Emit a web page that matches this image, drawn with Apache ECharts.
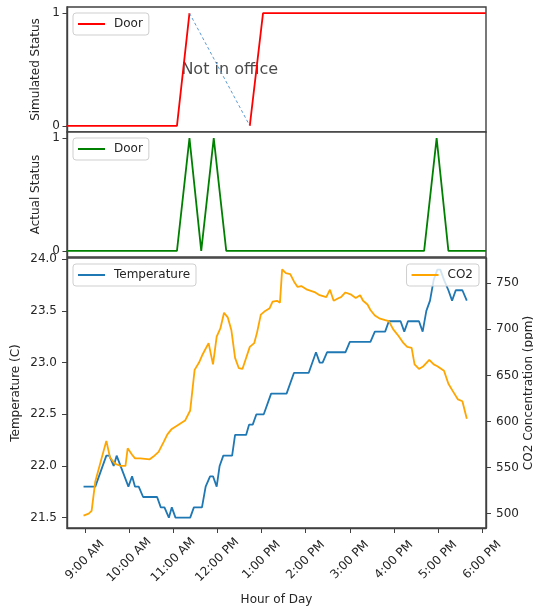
<!DOCTYPE html>
<html>
<head>
<meta charset="utf-8">
<script src="https://cdn.jsdelivr.net/npm/echarts@6/dist/echarts.min.js"></script>
<style>
  html, body { margin: 0; padding: 0; background: #fff; }
  #chart { width: 533px; height: 608px; }
</style>
</head>
<body>
<div id="chart"></div>
<script>
// Tick positions
const hourTicks = [9, 10, 11, 12, 13, 14, 15, 16, 17, 18];
const statusTicks = [0, 1];
const tempTicks = [21.5, 22.0, 22.5, 23.0, 23.5, 24.0];
const co2Ticks = [500, 550, 600, 650, 700, 750];

// Simulated door status (null = no reading while away)
const simDoorTimes = ["8:35", "11:05", "11:22", "12:00", "12:44", "13:02", "18:05"];
const simDoorValues = [0, 0, 1, null, 0, 1, 1];

// Dashed link across the time out of the office
const awayTimes = ["11:22", "12:44"];
const awayValues = [1, 0];

// Measured door status
const doorTimes = ["8:35", "11:05", "11:22", "11:38", "11:55", "12:12", "16:41", "16:58", "17:14", "18:05"];
const doorValues = [0, 0, 1, 0, 1, 0, 0, 1, 0, 0];

// Room temperature (C)
const tempTimes = ["8:58","9:14","9:29","9:33","9:39","9:43","9:59","10:04","10:08","10:13","10:19","10:38","10:43","10:48","10:54","10:58","11:03","11:23","11:28","11:39","11:44","11:50","11:54","11:59","12:03","12:08","12:20","12:24","12:39","12:43","12:48","12:53","13:03","13:13","13:34","13:44","14:04","14:14","14:19","14:23","14:29","14:54","15:00","15:28","15:34","15:48","15:53","16:09","16:14","16:19","16:34","16:39","16:44","16:49","16:54","16:59","17:03","17:08","17:14","17:19","17:24","17:33","17:39"];
const tempValues = [21.8,21.8,22.1,22.1,22.0,22.1,21.8,21.9,21.8,21.8,21.7,21.7,21.6,21.6,21.5,21.6,21.5,21.5,21.6,21.6,21.8,21.9,21.9,21.8,22.0,22.1,22.1,22.3,22.3,22.4,22.4,22.5,22.5,22.7,22.7,22.9,22.9,23.1,23.0,23.0,23.1,23.1,23.2,23.2,23.3,23.3,23.4,23.4,23.3,23.4,23.4,23.3,23.5,23.6,23.8,23.9,23.9,23.8,23.7,23.6,23.7,23.7,23.6];

// CO2 concentration (ppm)
const co2Times = ["8:58","9:05","9:09","9:14","9:29","9:34","9:41","9:48","9:55","9:58","10:04","10:08","10:15","10:28","10:33","10:40","10:47","10:52","10:58","11:06","11:16","11:23","11:29","11:35","11:40","11:48","11:54","11:59","12:04","12:09","12:14","12:19","12:24","12:29","12:34","12:39","12:44","12:50","12:54","12:59","13:05","13:11","13:15","13:21","13:25","13:28","13:33","13:39","13:44","13:49","13:54","14:02","14:13","14:19","14:28","14:33","14:38","14:45","14:48","14:54","15:01","15:08","15:14","15:18","15:24","15:28","15:34","15:40","15:48","15:53","15:59","16:06","16:13","16:18","16:24","16:28","16:34","16:40","16:48","16:54","16:59","17:08","17:14","17:20","17:27","17:33","17:39"];
const co2Values = [498,500,503,535,579,561,554,552,552,571,564,560,560,559,562,567,578,586,592,596,601,612,656,664,673,685,662,692,701,718,713,699,669,658,657,669,681,685,697,716,720,723,730,731,729,765,761,760,752,746,747,743,740,737,735,743,731,734,735,740,738,734,737,731,727,721,715,712,710,709,700,693,685,681,680,662,657,660,667,662,660,655,641,633,624,622,603];

// Text annotation on the simulated panel
const noteText = "Not in office";
const notePoint = ["11:11", 0.5];

const FONT = 'DejaVu Sans';
const TXT = '#262626';
const SPINE = '#404040';
const X_MIN = 8.592, X_MAX = 18.085;

function hm(s) { const p = s.split(':').map(Number); return p[0] + p[1] / 60; }
function pairs(ts, vs) { return ts.map((t, i) => [hm(t), vs[i] === null ? '-' : vs[i]]); }
function hourLabel(h) {
  const h12 = h % 12 === 0 ? 12 : h % 12;
  return h12 + ':00 ' + (h < 12 ? 'AM' : 'PM');
}

const gridBase = {
  left: 67, right: 47, show: true, borderColor: SPINE, borderWidth: 1.4,
  backgroundColor: '#fff', containLabel: false, outerBoundsMode: 'none'
};
const labelFont = { fontFamily: FONT, fontSize: 12, color: TXT };
const legendIcon = 'path://M0,0H27V2H0Z M31,0';

function topX(gridIndex) {
  return {
    type: 'value', gridIndex, min: X_MIN, max: X_MAX,
    axisLine: { show: false, onZero: false },
    axisTick: { show: false }, axisLabel: { show: false }, splitLine: { show: false }
  };
}
function statusY(gridIndex, name) {
  return {
    type: 'value', gridIndex, min: -0.055, max: 1.055,
    name, nameLocation: 'middle', nameGap: 25, nameTextStyle: labelFont, nameMoveOverlap: false,
    axisLine: { show: true, onZero: false, lineStyle: { color: SPINE, width: 1.4 } },
    axisTick: { show: true, length: 4.5, customValues: statusTicks, lineStyle: { color: SPINE } },
    axisLabel: Object.assign({ customValues: statusTicks, margin: 7 }, labelFont),
    splitLine: { show: false }
  };
}
function legend(left, right, top, name, color) {
  const l = {
    top, icon: legendIcon, itemWidth: 31, itemHeight: 2,
    padding: [5, 6, 5, 5], borderColor: '#cfcfcf', borderWidth: 1, borderRadius: 3,
    backgroundColor: 'rgba(255,255,255,0.8)',
    textStyle: labelFont, selectedMode: false,
    itemStyle: { borderWidth: 0 },
    data: [{ name, itemStyle: { color, borderWidth: 0 } }]
  };
  if (left !== null) l.left = left; else l.right = right;
  return l;
}

const option = {
  animation: false,
  textStyle: { fontFamily: FONT },
  grid: [
    Object.assign({ top: 7, height: 125 }, gridBase),
    Object.assign({ top: 132, height: 125 }, gridBase),
    Object.assign({ top: 258, height: 270 }, gridBase)
  ],
  legend: [
    legend(73, null, 13, 'Door', '#ff0000'),
    legend(73, null, 138, 'Door', '#008000'),
    legend(73, null, 264, 'Temperature', '#1f77b4'),
    legend(null, 54, 264, 'CO2', '#ffa500')
  ],
  xAxis: [
    topX(0),
    topX(1),
    {
      type: 'value', gridIndex: 2, min: X_MIN, max: X_MAX,
      name: 'Hour of Day', nameLocation: 'middle', nameGap: 66, nameTextStyle: labelFont,
      nameMoveOverlap: false,
      axisLine: { show: true, onZero: false, lineStyle: { color: SPINE, width: 1.4 } },
      axisTick: { show: true, length: 5, customValues: hourTicks, lineStyle: { color: SPINE } },
      axisLabel: Object.assign({
        customValues: hourTicks, rotate: 45, align: 'center', verticalAlign: 'middle',
        margin: 32, formatter: v => hourLabel(Math.round(v))
      }, labelFont),
      splitLine: { show: false }
    }
  ],
  yAxis: [
    statusY(0, 'Simulated Status'),
    statusY(1, 'Actual Status'),
    {
      type: 'value', gridIndex: 2, min: 21.40, max: 24.012,
      name: 'Temperature (C)', nameLocation: 'middle', nameGap: 45, nameTextStyle: labelFont,
      nameMoveOverlap: false,
      axisLine: { show: true, onZero: false, lineStyle: { color: SPINE, width: 1.4 } },
      axisTick: { show: true, length: 5, customValues: tempTicks, lineStyle: { color: SPINE } },
      axisLabel: Object.assign({ customValues: tempTicks, margin: 10, formatter: v => v.toFixed(1) }, labelFont),
      splitLine: { show: false }
    },
    {
      type: 'value', gridIndex: 2, position: 'right', min: 484.5, max: 777.4,
      name: 'CO2 Concentration (ppm)', nameLocation: 'middle', nameGap: 37, nameTextStyle: labelFont,
      nameMoveOverlap: false,
      axisLine: { show: true, onZero: false, lineStyle: { color: SPINE, width: 1.4 } },
      axisTick: { show: true, length: 5, customValues: co2Ticks, lineStyle: { color: SPINE } },
      axisLabel: Object.assign({ customValues: co2Ticks, margin: 10 }, labelFont),
      splitLine: { show: false }
    }
  ],
  series: [
    {
      name: 'Door', type: 'line', xAxisIndex: 0, yAxisIndex: 0,
      data: pairs(simDoorTimes, simDoorValues), showSymbol: false, connectNulls: false,
      lineStyle: { color: '#ff0000', width: 1.8 }, itemStyle: { color: '#ff0000' }
    },
    {
      name: 'away', type: 'line', xAxisIndex: 0, yAxisIndex: 0,
      data: pairs(awayTimes, awayValues), showSymbol: false,
      lineStyle: { color: '#5b9bd5', width: 1, type: [3, 2.5] }
    },
    {
      name: 'note', type: 'scatter', xAxisIndex: 0, yAxisIndex: 0,
      data: [[hm(notePoint[0]), notePoint[1]]], symbolSize: 0,
      label: { show: true, position: 'right', distance: 0, formatter: noteText,
               fontFamily: FONT, fontSize: 16, color: '#1a1a1a' }
    },
    {
      name: 'Door', type: 'line', xAxisIndex: 1, yAxisIndex: 1,
      data: pairs(doorTimes, doorValues), showSymbol: false,
      lineStyle: { color: '#008000', width: 1.8 }, itemStyle: { color: '#008000' }
    },
    {
      name: 'Temperature', type: 'line', xAxisIndex: 2, yAxisIndex: 2,
      data: pairs(tempTimes, tempValues), showSymbol: false,
      lineStyle: { color: '#1f77b4', width: 1.8 }, itemStyle: { color: '#1f77b4' }
    },
    {
      name: 'CO2', type: 'line', xAxisIndex: 2, yAxisIndex: 3,
      data: pairs(co2Times, co2Values), showSymbol: false,
      lineStyle: { color: '#ffa500', width: 1.8 }, itemStyle: { color: '#ffa500' }
    }
  ]
};

const chart = echarts.init(document.getElementById('chart'), null, { renderer: 'canvas' });
chart.setOption(option);
</script>
</body>
</html>
